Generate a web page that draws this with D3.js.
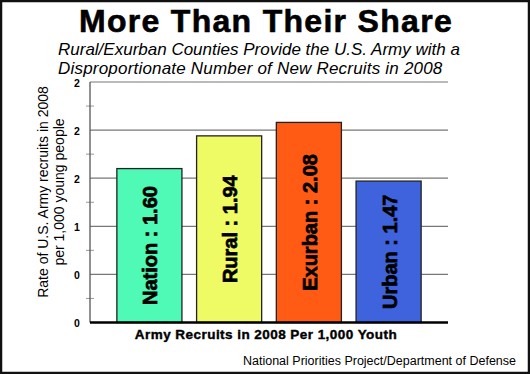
<!DOCTYPE html>
<html>
<meta charset="utf-8">
<style>
  body { margin: 0; background: #fff; }
  text { font-family: "Liberation Sans", Arial, sans-serif; }
</style>
<script src="https://d3js.org/d3.v7.min.js"></script>
<body>
<script>
var svgWidth = 530, svgHeight = 374;

// data
var categories = ["Nation", "Rural", "Exurban", "Urban"];
var values = [1.60, 1.94, 2.08, 1.47];
var barColors = ["#4ffab6", "#eefb64", "#ff5b14", "#3e63dc"];
var tickValues = [0, 0.5, 1, 1.5, 2, 2.5];
var tickLabels = ["0", "0", "1", "2", "2", "2"];

var margin = { left: 90, right: 448, top: 82, bottom: 322.5 };

var svg = d3.select("body")
  .append("svg")
  .attr("width", svgWidth)
  .attr("height", svgHeight);

// outer frame
svg.append("rect")
  .attr("x", 1).attr("y", 1)
  .attr("width", svgWidth - 2).attr("height", svgHeight - 2)
  .attr("fill", "#fff")
  .attr("stroke", "#111")
  .attr("stroke-width", 2.5);

var x = d3.scaleBand()
  .domain(categories)
  .range([margin.left, margin.right])
  .paddingInner(0.184)
  .paddingOuter(0.337);

var y = d3.scaleLinear()
  .domain([0, 2.5])
  .range([margin.bottom, margin.top]);

// gridlines
svg.selectAll(".grid")
  .data(tickValues.slice(1))
  .enter()
  .append("line")
  .attr("x1", margin.left)
  .attr("x2", margin.right)
  .attr("y1", function(d) { return y(d); })
  .attr("y2", function(d) { return y(d); })
  .attr("stroke", "#777")
  .attr("stroke-width", 1.2);

// minor ticks
var minor = d3.range(0.25, 2.5, 0.5);
svg.selectAll(".minor")
  .data(minor)
  .enter()
  .append("line")
  .attr("x1", margin.left - 4)
  .attr("x2", margin.left + 4)
  .attr("y1", function(d) { return y(d); })
  .attr("y2", function(d) { return y(d); })
  .attr("stroke", "#999")
  .attr("stroke-width", 1);

// left axis line
svg.append("line")
  .attr("x1", margin.left).attr("x2", margin.left)
  .attr("y1", margin.top).attr("y2", margin.bottom)
  .attr("stroke", "#555")
  .attr("stroke-width", 1.3);

// tick labels
svg.selectAll(".tick")
  .data(tickValues)
  .enter()
  .append("text")
  .attr("x", 77)
  .attr("y", function(d) { return y(d) + 4.5; })
  .attr("text-anchor", "middle")
  .attr("font-size", 10.5)
  .attr("font-weight", "bold")
  .text(function(d, i) { return tickLabels[i]; });

// bars
var bar = svg.selectAll(".bar")
  .data(categories)
  .enter()
  .append("g");

bar.append("rect")
  .attr("x", function(d) { return x(d); })
  .attr("y", function(d, i) { return y(values[i]); })
  .attr("width", x.bandwidth())
  .attr("height", function(d, i) { return y(0) - y(values[i]); })
  .attr("fill", function(d, i) { return barColors[i]; })
  .attr("stroke", "#222")
  .attr("stroke-width", 1.3);

bar.append("text")
  .attr("transform", function(d, i) {
    var cx = x(d) + x.bandwidth() / 2 + 1;
    var cy = (y(values[i]) + y(0)) / 2;
    return "translate(" + cx + "," + cy + ") rotate(-90)";
  })
  .attr("text-anchor", "middle")
  .attr("dominant-baseline", "central")
  .attr("font-size", 20)
  .attr("font-weight", "bold")
  .attr("stroke", "#000")
  .attr("stroke-width", 0.7)
  .text(function(d, i) { return d + " : " + values[i].toFixed(2); });

// baseline
svg.append("line")
  .attr("x1", margin.left).attr("x2", margin.right)
  .attr("y1", y(0)).attr("y2", y(0))
  .attr("stroke", "#000")
  .attr("stroke-width", 2.5);

// titles
svg.append("text")
  .attr("x", 266).attr("y", 32)
  .attr("text-anchor", "middle")
  .attr("font-size", 32)
  .attr("font-weight", "bold")
  .attr("letter-spacing", 1.3)
  .attr("stroke", "#000")
  .attr("stroke-width", 0.6)
  .text("More Than Their Share");

svg.append("text")
  .attr("x", 58).attr("y", 55)
  .attr("font-size", 17)
  .attr("font-style", "italic")
  .text("Rural/Exurban Counties Provide the U.S. Army with a");

svg.append("text")
  .attr("x", 58).attr("y", 73.5)
  .attr("font-size", 17)
  .attr("font-style", "italic")
  .attr("letter-spacing", 0.2)
  .text("Disproportionate Number of New Recruits in 2008");

// y axis title
var yt = svg.append("text")
  .attr("transform", "translate(44,192) rotate(-90)")
  .attr("text-anchor", "middle")
  .attr("font-size", 14);
yt.append("tspan").attr("x", 0).attr("dy", 4).text("Rate of U.S. Army recruits in 2008");
yt.append("tspan").attr("x", 0).attr("dy", 16).text("per 1,000 young people");

// x axis title
svg.append("text")
  .attr("x", 266).attr("y", 339)
  .attr("text-anchor", "middle")
  .attr("font-size", 13.5)
  .attr("font-weight", "bold")
  .attr("letter-spacing", 0.45)
  .attr("stroke", "#000")
  .attr("stroke-width", 0.4)
  .text("Army Recruits in 2008 Per 1,000 Youth");

// source
svg.append("text")
  .attr("x", 516).attr("y", 365)
  .attr("text-anchor", "end")
  .attr("font-size", 12.5)
  .text("National Priorities Project/Department of Defense");
</script>
</body>
</html>
